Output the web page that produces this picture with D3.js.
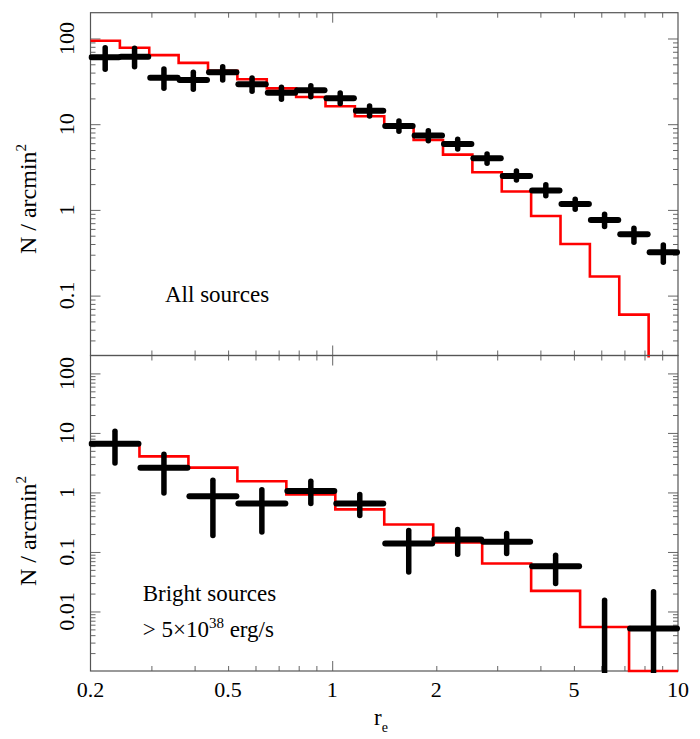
<!DOCTYPE html>
<html>
<head>
<meta charset="utf-8">
<script src="https://cdn.jsdelivr.net/npm/d3@7/dist/d3.min.js"></script>
<style>
  html, body { margin: 0; padding: 0; background: #fff; }
  svg { display: block; }
  text { font-family: "Liberation Serif", "Times New Roman", serif; fill: #000; }
</style>
</head>
<body>
<svg id="chart" width="700" height="739"></svg>
<script>
// ---------------- DATA ----------------
// x tick labels
const xTickLabels = [0.2, 0.5, 1, 2, 5, 10];
const xMinorTicks = [0.3, 0.4, 0.5, 0.6, 0.7, 0.8, 0.9, 2, 3, 4, 5, 6, 7, 8, 9];
const xMajorTicks = [1];

// Top panel (All sources): 20 log bins
const topEdges = [0.2, 0.24321, 0.29576, 0.35966, 0.43737, 0.53187, 0.64678, 0.78652, 0.95645, 1.16309,
                  1.41421, 1.71976, 2.09132, 2.54316, 3.09261, 3.76077, 4.57328, 5.56134, 6.76285, 8.22396, 10];
const topModel = [94, 78, 64, 52, 42, 33.4, 26.2, 20.8, 16.2, 12.4, 9.4, 6.55, 4.42, 2.75, 1.64, 0.85, 0.40, 0.167, 0.060, 0.01];
const topObs   = [60.4, 61.4, 34.9, 32.8, 40.4, 29.3, 23.3, 24.9, 20.1, 14.4, 9.55, 7.36, 5.88, 4.01, 2.49, 1.68, 1.17, 0.764, 0.52, 0.32];
const topLo    = [43.8, 46.9, 26.2, 25.6, 32.8, 24.2, 19.5, 20.9, 17.4, 12.5, 8.3, 6.4, 5.14, 3.5, 2.24, 1.46, 1.02, 0.64, 0.42, 0.245];
const topHi    = [78, 76.8, 44.2, 40.4, 46.9, 34.6, 26.9, 28.1, 23.2, 16.3, 10.9, 8.4, 6.67, 4.5, 2.85, 1.96, 1.33, 0.89, 0.61, 0.39];
const topYLabels = [100, 10, 1, 0.1];
const topDecades = [0.01, 0.1, 1, 10, 100];

// Bottom panel (Bright sources): 12 log bins
const botEdges = [0.2, 0.27709, 0.38389, 0.53186, 0.73686, 1.02087, 1.41421, 1.95937, 2.71460, 3.76092, 5.21055, 7.21893, 10];
const botModel = [6.6, 4.04, 2.61, 1.54, 0.93, 0.52, 0.29, 0.144, 0.064, 0.0222, 0.0055, 0.001];
const botObs   = [6.6, 2.61, 0.86, 0.65, 1.06, 0.65, 0.139, 0.162, 0.148, 0.0577, 0, 0.0052];
const botLo    = [3.12, 0.98, 0.19, 0.217, 0.65, 0.41, 0.046, 0.0917, 0.094, 0.0295, 0, 0];
const botHi    = [10.7, 4.37, 1.60, 1.11, 1.54, 0.92, 0.23, 0.238, 0.204, 0.088, 0.0155, 0.0214];
const botYLabels = [100, 10, 1, 0.1, 0.01];
const botDecades = [0.001, 0.01, 0.1, 1, 10, 100];

// ---------------- LAYOUT ----------------
const svg = d3.select("#chart");
const left = 90.5, right = 678;
const panels = [
  { id: "top", top: 12.7, bottom: 355.5, domain: [0.02, 200], edges: topEdges, model: topModel,
    obs: topObs, lo: topLo, hi: topHi, labels: topYLabels, decades: topDecades, titleY: 199 },
  { id: "bot", top: 355.5, bottom: 671, domain: [0.001, 200], edges: botEdges, model: botModel,
    obs: botObs, lo: botLo, hi: botHi, labels: botYLabels, decades: botDecades, titleY: 531 }
];

const x = d3.scaleLog().domain([0.2, 10]).range([left, right]);

const defs = svg.append("defs");

panels.forEach(p => {
  const y = d3.scaleLog().domain(p.domain).range([p.bottom, p.top]);
  const safe = v => y(Math.max(v, 1e-7));
  const g = svg.append("g");

  // clip
  defs.append("clipPath").attr("id", "clip-" + p.id)
    .append("rect").attr("x", left - 2).attr("y", p.top - 2)
    .attr("width", right - left + 4).attr("height", p.bottom - p.top + 4);

  // minor y ticks
  const yMinor = [];
  p.decades.forEach(d => { for (let m = 2; m <= 9; m++) { const v = d * m; if (v > p.domain[0] && v < p.domain[1]) yMinor.push(v); } });
  const yMajor = p.decades.filter(v => v > p.domain[0] && v < p.domain[1]);

  const tickStyle = sel => { sel.select(".domain").remove(); sel.selectAll("line").attr("stroke", "#666").attr("stroke-width", 1); sel.selectAll("text").remove(); };

  g.append("g").attr("transform", `translate(${left},0)`)
    .call(d3.axisLeft(y).tickValues(yMinor).tickSizeInner(-5).tickSizeOuter(0).tickFormat("")).call(tickStyle);
  g.append("g").attr("transform", `translate(${left},0)`)
    .call(d3.axisLeft(y).tickValues(yMajor).tickSizeInner(-10).tickSizeOuter(0).tickFormat("")).call(tickStyle);
  g.append("g").attr("transform", `translate(${right},0)`)
    .call(d3.axisRight(y).tickValues(yMinor).tickSizeInner(-5).tickSizeOuter(0).tickFormat("")).call(tickStyle);
  g.append("g").attr("transform", `translate(${right},0)`)
    .call(d3.axisRight(y).tickValues(yMajor).tickSizeInner(-10).tickSizeOuter(0).tickFormat("")).call(tickStyle);

  // x ticks top & bottom
  g.append("g").attr("transform", `translate(0,${p.top})`)
    .call(d3.axisTop(x).tickValues(xMinorTicks).tickSizeInner(-5).tickSizeOuter(0).tickFormat("")).call(tickStyle);
  g.append("g").attr("transform", `translate(0,${p.top})`)
    .call(d3.axisTop(x).tickValues(xMajorTicks).tickSizeInner(-10).tickSizeOuter(0).tickFormat("")).call(tickStyle);
  g.append("g").attr("transform", `translate(0,${p.bottom})`)
    .call(d3.axisBottom(x).tickValues(xMinorTicks).tickSizeInner(-5).tickSizeOuter(0).tickFormat("")).call(tickStyle);
  g.append("g").attr("transform", `translate(0,${p.bottom})`)
    .call(d3.axisBottom(x).tickValues(xMajorTicks).tickSizeInner(-10).tickSizeOuter(0).tickFormat("")).call(tickStyle);

  // frame
  g.append("rect").attr("x", left).attr("y", p.top).attr("width", right - left).attr("height", p.bottom - p.top)
    .attr("fill", "none").attr("stroke", "#555").attr("stroke-width", 1.2);

  // y tick labels (rotated)
  g.selectAll("text.ylab").data(p.labels).join("text").attr("class", "ylab")
    .attr("transform", d => `translate(74,${y(d)}) rotate(-90)`)
    .attr("text-anchor", "middle").attr("font-size", 22)
    .text(d => String(d));

  // y title
  const t = g.append("text").attr("transform", `translate(36,${p.titleY}) rotate(-90)`)
    .attr("text-anchor", "middle").attr("font-size", 24);
  t.append("tspan").text("N / arcmin");
  t.append("tspan").attr("font-size", 15).attr("dy", -10).text("2");

  const plot = g.append("g").attr("clip-path", `url(#clip-${p.id})`);

  // model step (red)
  const stepPts = p.model.map((v, i) => [p.edges[i], v]);
  stepPts.push([p.edges[p.edges.length - 1], p.model[p.model.length - 1]]);
  const line = d3.line().x(d => x(d[0])).y(d => safe(d[1])).curve(d3.curveStepAfter);
  plot.append("path").attr("d", line(stepPts)).attr("fill", "none")
    .attr("stroke", "#ff0000").attr("stroke-width", 2.6);

  // observed (black crosses)
  const idx = d3.range(p.obs.length);
  plot.selectAll("line.h").data(idx).join("line").attr("class", "h")
    .attr("x1", i => x(p.edges[i]) + 1).attr("x2", i => x(p.edges[i + 1]) - 1)
    .attr("y1", i => safe(p.obs[i])).attr("y2", i => safe(p.obs[i]))
    .attr("stroke", "#000").attr("stroke-width", 6).attr("stroke-linecap", "round");
  plot.selectAll("line.v").data(idx).join("line").attr("class", "v")
    .attr("x1", i => x(Math.sqrt(p.edges[i] * p.edges[i + 1]))).attr("x2", i => x(Math.sqrt(p.edges[i] * p.edges[i + 1])))
    .attr("y1", i => safe(p.lo[i])).attr("y2", i => safe(p.hi[i]))
    .attr("stroke", "#000").attr("stroke-width", 5.5).attr("stroke-linecap", "round");
});

// x tick labels
svg.selectAll("text.xlab").data(xTickLabels).join("text").attr("class", "xlab")
  .attr("x", d => x(d)).attr("y", 697).attr("text-anchor", "middle").attr("font-size", 22)
  .text(d => String(d));

// x title r_e
const xt = svg.append("text").attr("x", 374).attr("y", 725).attr("font-size", 23);
xt.append("tspan").text("r");
xt.append("tspan").attr("font-size", 14).attr("dy", 7).text("e");

// annotations
svg.append("text").attr("x", 165).attr("y", 302).attr("font-size", 23).text("All sources");
svg.append("text").attr("x", 142.7).attr("y", 601).attr("font-size", 23).text("Bright sources");
const a2 = svg.append("text").attr("x", 142.7).attr("y", 637).attr("font-size", 23);
a2.append("tspan").text("> 5×10");
a2.append("tspan").attr("font-size", 15).attr("dy", -9).text("38");
a2.append("tspan").attr("dy", 9).text(" erg/s");
</script>
</body>
</html>
